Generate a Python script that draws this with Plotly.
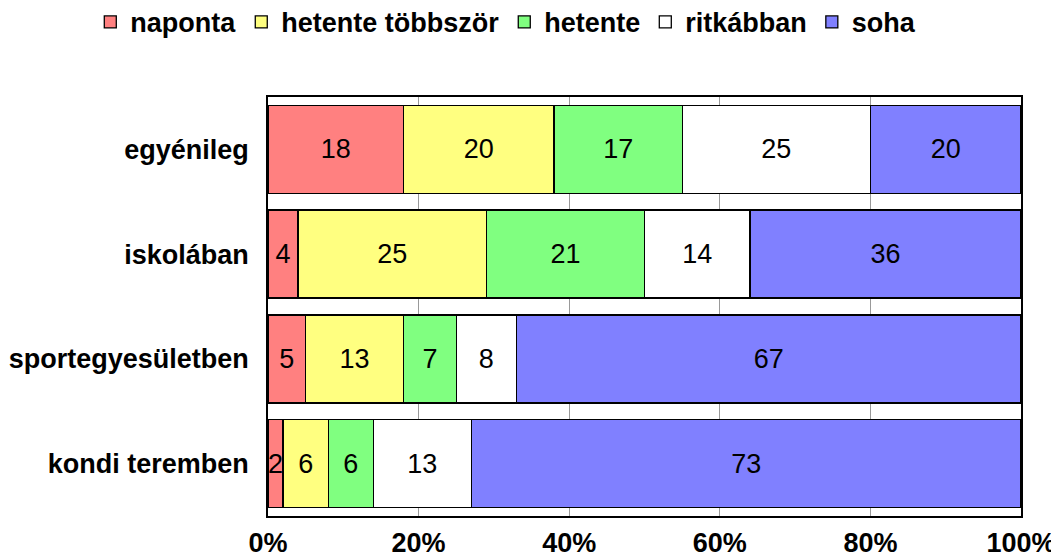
import plotly.graph_objects as go

categories = ["egyénileg", "iskolában", "sportegyesületben", "kondi teremben"]
series_names = ["naponta", "hetente többször", "hetente", "ritkábban", "soha"]
naponta = [18, 4, 5, 2]
hetente_tobbszor = [20, 25, 13, 6]
hetente = [17, 21, 7, 6]
ritkabban = [25, 14, 8, 13]
soha = [20, 36, 67, 73]
tick_values = [0, 20, 40, 60, 80, 100]
tick_labels = ["0%", "20%", "40%", "60%", "80%", "100%"]

colors = ["#FF8080", "#FFFF80", "#80FF80", "#FFFFFF", "#8080FF"]
font = "Liberation Sans, Arial, sans-serif"

fig = go.Figure()
for name, vals, col in zip(series_names,
                           [naponta, hetente_tobbszor, hetente, ritkabban, soha],
                           colors):
    fig.add_trace(go.Bar(
        name=name, y=categories, x=vals, orientation="h",
        marker=dict(color=col, line=dict(color="black", width=1.3)),
        text=vals, textposition="inside", insidetextanchor="middle",
        textangle=0, constraintext="none",
        textfont=dict(family=font, size=27, color="black"),
    ))

# the page body adds an 8px margin, so the figure is a bit smaller
# legend sits left of / above the plot area so it may use the full width
fig.update_layout(
    barmode="stack", bargap=0.16,
    width=1051, height=550,
    margin=dict(l=260, r=38, t=89, b=42, autoexpand=False),
    plot_bgcolor="white", paper_bgcolor="white",
    font=dict(family=font, color="black"),
    legend=dict(orientation="h", x=-0.236, xanchor="left",
                y=1.178, yanchor="middle",
                font=dict(size=27, weight="bold"),
                itemwidth=30, tracegroupgap=0, traceorder="normal"),
    xaxis=dict(range=[0, 100], tickvals=tick_values, ticktext=tick_labels,
               showgrid=True, gridcolor="#999999", gridwidth=1,
               showline=True, linecolor="black", linewidth=1.5, mirror=True,
               ticks="", tickfont=dict(size=27, weight="bold"),
               ticklabelstandoff=2, zeroline=False, automargin=False),
    yaxis=dict(autorange="reversed", showline=True, linecolor="black",
               linewidth=1.5, mirror=True, ticks="", automargin=False,
               tickfont=dict(size=27, weight="bold"), ticklabelstandoff=12),
)

fig.write_html("out.html")
